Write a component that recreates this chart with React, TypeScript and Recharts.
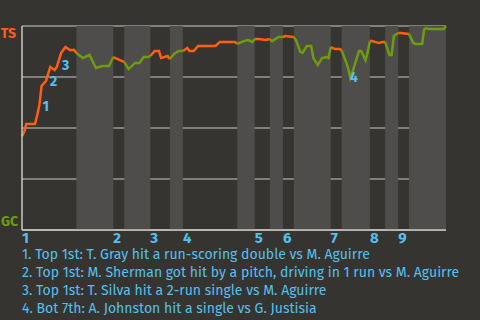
import React from 'react';
import { LineChart, Line, XAxis, YAxis, CartesianGrid, ReferenceArea, ReferenceDot } from 'recharts';

// play index along the game, TS win probability after that play
const plays = [
  0, 1, 2, 6, 7, 8, 9, 11, 13, 15, 16, 18, 20, 22, 24, 25, 28, 31, 34, 37,
  40, 42, 45, 47, 49, 52, 54, 56, 58, 59, 61, 63, 64, 67, 68, 70, 72, 74, 76, 77,
  79, 81, 89, 91, 98, 99, 102, 104, 106, 107, 109, 112, 114, 115, 118, 120, 121, 125, 126, 128,
  129, 131, 133, 134, 136, 138, 140, 141, 142, 144, 146, 147, 149, 150, 151, 152, 155, 156, 158, 159,
  160, 161, 164, 166, 167, 169, 170, 171, 173, 174, 178, 180, 181, 184, 185, 186, 187, 194, 195,
];
const tsWinProb = [
  0.46, 0.48, 0.52, 0.52, 0.564, 0.613, 0.706, 0.73, 0.799, 0.784, 0.799, 0.868, 0.897, 0.882, 0.882, 0.868, 0.843, 0.858, 0.794, 0.804,
  0.804, 0.848, 0.833, 0.824, 0.789, 0.819, 0.819, 0.848, 0.848, 0.853, 0.877, 0.877, 0.843, 0.853, 0.838, 0.863, 0.877, 0.877, 0.892, 0.877,
  0.877, 0.902, 0.902, 0.922, 0.922, 0.912, 0.926, 0.931, 0.922, 0.936, 0.936, 0.931, 0.936, 0.926, 0.946, 0.946, 0.951, 0.946, 0.931, 0.873,
  0.868, 0.902, 0.902, 0.843, 0.809, 0.843, 0.848, 0.843, 0.897, 0.887, 0.887, 0.882, 0.824, 0.794, 0.745, 0.775, 0.877, 0.877, 0.833, 0.873,
  0.926, 0.926, 0.917, 0.922, 0.922, 0.858, 0.858, 0.951, 0.966, 0.966, 0.961, 0.917, 0.912, 0.912, 0.985, 0.99, 0.985, 0.985, 1,
];

// bottom halves of each inning (GC batting), as [first play, last play]
const bottomHalves = [
  [25, 42], [47, 59], [68, 74], [99, 107], [114, 120], [125, 142], [147, 160], [167, 173], [178, 195],
];
const inningStarts = [0, 42, 59, 74, 107, 120, 142, 160, 173];
const inningLabels = ['1', '2', '3', '4', '5', '6', '7', '8', '9'];

const eventPlays = [8, 11.5, 17, 149.5];
const eventWinProb = [0.608, 0.73, 0.809, 0.75];
const eventLabels = ['1', '2', '3', '4'];
const eventNotes = [
  '1. Top 1st: T. Gray hit a run-scoring double vs M. Aguirre',
  '2. Top 1st: M. Sherman got hit by a pitch, driving in 1 run vs M. Aguirre',
  '3. Top 1st: T. Silva hit a 2-run single vs M. Aguirre',
  '4. Bot 7th: A. Johnston hit a single vs G. Justisia',
];

const BG = '#363430';
const BAND = '#4e4d4b';
const ORANGE = '#ff5f0f';
const GREEN = '#6f9c0e';
const BLUE = '#55c0ee';
const FONT = '"Fira Sans", "Open Sans", sans-serif';

const inBottom = (p: number) => bottomHalves.some(([a, b]) => p >= a && p <= b);
const inTop = (p: number) => !bottomHalves.some(([a, b]) => p > a && p < b);

const data = plays.map((p, i) => ({
  play: p,
  ts: inTop(p) ? tsWinProb[i] : null,
  gc: inBottom(p) ? tsWinProb[i] : null,
}));

const XTick = (props: any) => {
  const { x, y, payload } = props;
  const idx = inningStarts.indexOf(payload.value);
  return (
    <text x={x} y={y + 13} textAnchor="start" fill={BLUE} fontSize={15} fontWeight="bold" fontFamily={FONT}>
      {inningLabels[idx]}
    </text>
  );
};

const YTick = (props: any) => {
  const { x, y, payload } = props;
  if (payload.value === 1) {
    return (
      <text x={x - 6} y={y + 12} textAnchor="end" fill={ORANGE} fontSize={14} fontWeight="bold" fontFamily={FONT}>TS</text>
    );
  }
  if (payload.value === 0) {
    return (
      <text x={x - 4} y={y - 4} textAnchor="end" fill={GREEN} fontSize={14} fontWeight="bold" fontFamily={FONT}>GC</text>
    );
  }
  return null;
};

export default function App() {
  return (
    <div style={{ position: 'absolute', left: 0, top: 0, width: 480, height: 320, background: BG, overflow: 'hidden' }}>
      <LineChart width={480} height={320} data={data} margin={{ top: 26, right: 34, left: 0, bottom: 0 }}>
        {bottomHalves.map(([a, b], i) => (
          <ReferenceArea key={i} x1={a} x2={b} y1={0} y2={1} fill={BAND} fillOpacity={1} stroke="none" />
        ))}
        <CartesianGrid vertical={false} stroke="#9a9996" strokeWidth={1.5} />
        <XAxis
          dataKey="play"
          type="number"
          domain={[0, 195]}
          ticks={inningStarts}
          tick={<XTick />}
          tickLine={false}
          tickSize={0}
          tickMargin={0}
          height={90}
          axisLine={{ stroke: '#c9c8c5', strokeWidth: 1.5 }}
          interval={0}
        />
        <YAxis
          type="number"
          domain={[0, 1]}
          ticks={[0, 0.25, 0.5, 0.75, 1]}
          tick={<YTick />}
          tickLine={false}
          tickSize={0}
          tickMargin={0}
          width={22}
          axisLine={{ stroke: '#c9c8c5', strokeWidth: 1.5 }}
          interval={0}
        />
        <Line dataKey="ts" stroke={ORANGE} strokeWidth={2.5} dot={false} type="linear" isAnimationActive={false} connectNulls={false} />
        <Line dataKey="gc" stroke={GREEN} strokeWidth={2.5} dot={false} type="linear" isAnimationActive={false} connectNulls={false} />
        {eventPlays.map((p, i) => (
          <ReferenceDot
            key={i}
            x={p}
            y={eventWinProb[i]}
            r={0}
            shape={(s: any) => (
              <text x={s.cx + 3} y={s.cy + 5} textAnchor="start" fill={BLUE} fontSize={14} fontWeight="bold" fontFamily={FONT}>
                {eventLabels[i]}
              </text>
            )}
          />
        ))}
      </LineChart>
      <div style={{ position: 'absolute', left: 22, top: 246, fontFamily: FONT, fontSize: 14, lineHeight: '18px', color: BLUE, whiteSpace: 'nowrap' }}>
        {eventNotes.map((n, i) => (
          <div key={i}>{n}</div>
        ))}
      </div>
    </div>
  );
}
